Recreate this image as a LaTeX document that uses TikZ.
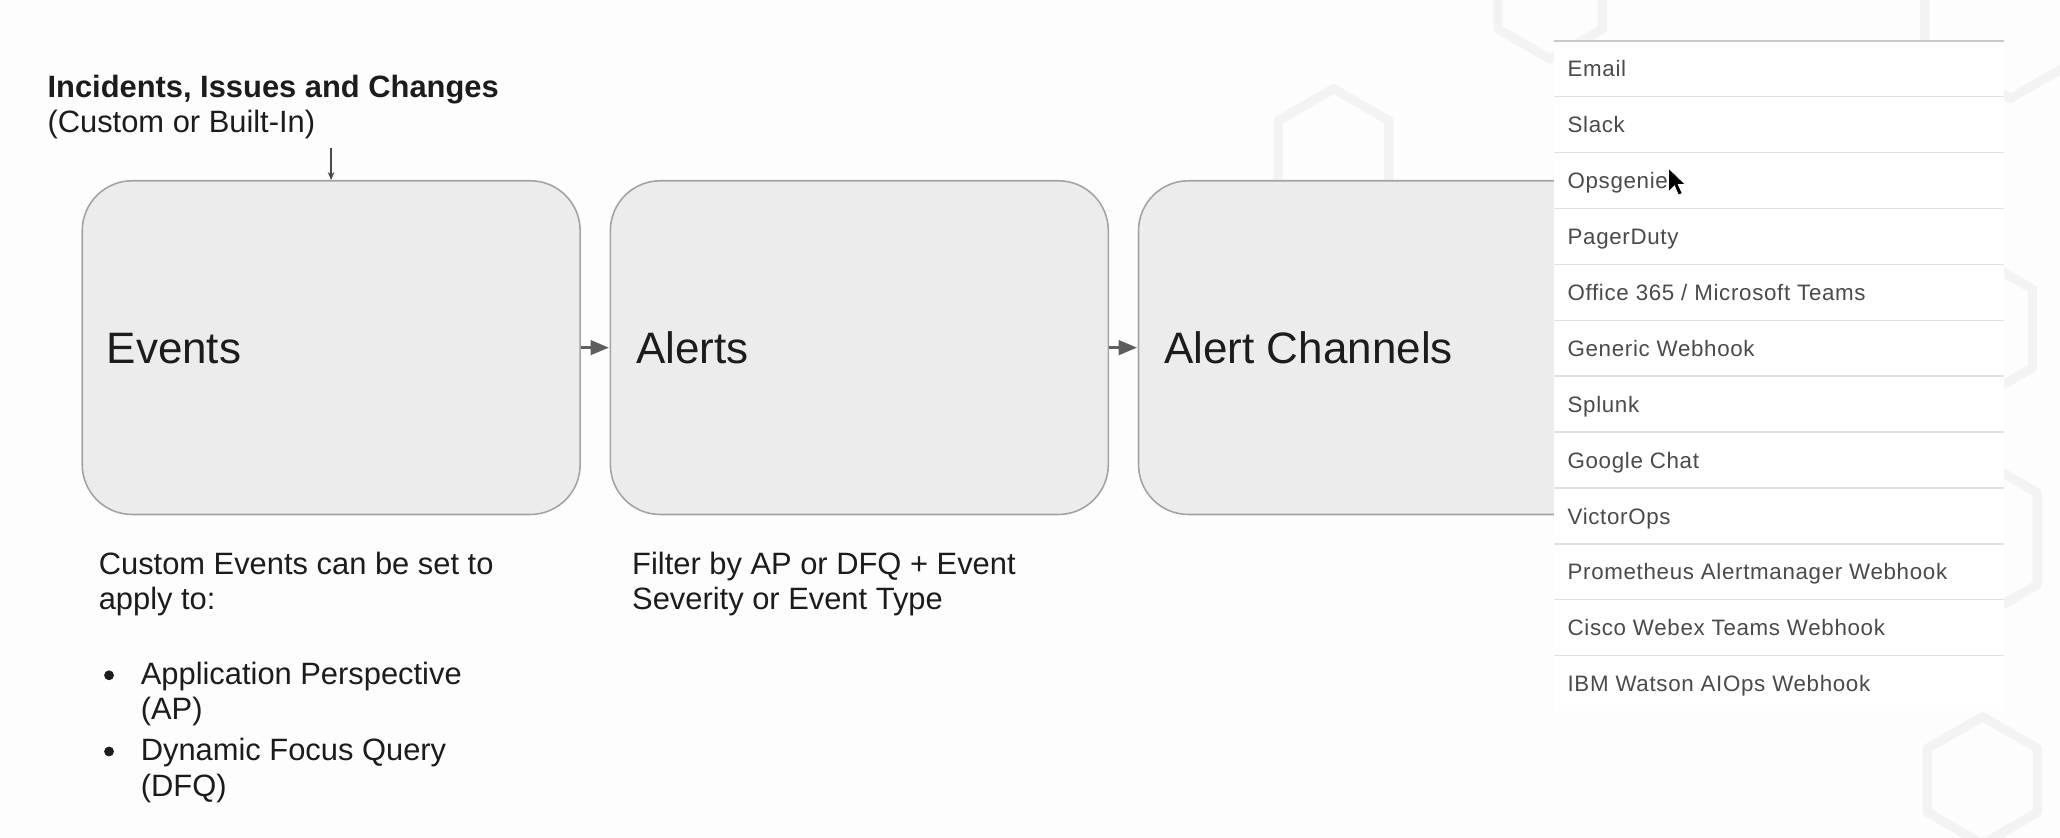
\documentclass[tikz,border=0pt]{standalone}
\usepackage{fontspec}
\setmainfont{Liberation Sans}
\usetikzlibrary{arrows.meta}
\definecolor{bgc}{HTML}{FDFDFD}
\definecolor{boxfill}{HTML}{ECECEC}
\definecolor{boxline}{HTML}{A3A3A3}
\definecolor{ink}{HTML}{1C1C1C}
\definecolor{listink}{HTML}{4A4A4A}
\definecolor{sepline}{HTML}{E2E2E2}
\definecolor{topline}{HTML}{C9C9C9}
\definecolor{wmark}{HTML}{F3F3F3}
\definecolor{arrowc}{HTML}{5E5E5E}
\tikzset{
  stagebox/.style={draw=boxline, fill=boxfill, line width=1.2pt, rounded corners=38pt,
    anchor=north west, minimum height=254pt, inner sep=0pt},
  bigtxt/.style={anchor=base west, text=ink, inner sep=0pt, font=\fontsize{33.5}{40}\selectfont},
  midtxt/.style={anchor=base west, text=ink, inner sep=0pt, align=left, font=\fontsize{23.5}{27}\selectfont},
  titletxt/.style={anchor=base west, text=ink, inner sep=0pt, font=\fontsize{23.5}{27}\selectfont\bfseries},
  itemtxt/.style={anchor=base west, text=listink, inner sep=0pt, font=\fontsize{17}{20}\selectfont\addfontfeature{LetterSpace=3}},
  flow/.style={draw=arrowc, line width=2.3pt, -{Triangle[length=14pt,width=11pt]}, shorten >=0.5pt},
  thinflow/.style={draw=ink!80, line width=0.9pt, -{Stealth[length=6pt,width=5pt]}},
  sep/.style={draw=sepline, line width=1pt},
  wm/.style={draw=wmark, line width=7pt, line join=round},
  bulletdot/.style={circle, fill=ink, minimum size=7.5pt, inner sep=0pt},
}
\begin{document}
\begin{tikzpicture}[x=1pt,y=-1pt]
\useasboundingbox[fill=bgc] (0,0) rectangle (1568,637.8);
% faint watermark hexagons
\foreach \cx/\cy/\r in {1015/116/48.5, 1180/-1/46, 1530/0/75, 1495/250/60, 1490/410/70, 1509/594/48.5}{
  \draw[wm] (\cx,\cy) +(90:\r) -- +(150:\r) -- +(210:\r) -- +(270:\r) -- +(330:\r) -- +(30:\r) -- cycle;
}
% stage boxes
\node[stagebox, minimum width=379pt] (events) at (62,137) {};
\node[stagebox, minimum width=379pt] (alerts) at (464,137) {};
\node[stagebox, minimum width=420pt] (channels) at (866,137) {};
\node[bigtxt] (eventstxt) at (81,277) {Events};
\node[bigtxt] (alertstxt) at (484,277) {Alerts};
\node[bigtxt] (channelstxt) at (886,277) {Alert Channels};
% connectors
\draw[flow] (events.east) -- (alerts.west);
\draw[flow] (alerts.east) -- (channels.west);
% title and input arrow
\node[titletxt] (title) at (36,74) {Incidents, Issues and Changes};
\node[midtxt] (subtitle) at (36,101) {(Custom or Built-In)};
\coordinate (src) at (252,113);
\draw[thinflow] (src) -- (src |- events.north);
% notes under the boxes (base anchor = last line)
\node[midtxt] (evnote) at (75,464) {Custom Events can be set to\\apply to:};
\node[bulletdot] (b1) at (83,514) {};
\node[midtxt] (item1) at (107,548) {Application Perspective\\(AP)};
\node[bulletdot] (b2) at (83,572) {};
\node[midtxt] (item2) at (107,606) {Dynamic Focus Query\\(DFQ)};
\node[midtxt] (alnote) at (481,464) {Filter by AP or DFQ + Event\\Severity or Event Type};
% channel list
\fill[white] (1183,31) rectangle (1525,541);
\draw[draw=topline, line width=1.3pt] (1183,31) -- (1525,31);
\foreach \i in {1,...,11}{
  \draw[sep] (1183,{31+42.55*\i}) -- (1525,{31+42.55*\i});
}
\foreach \t [count=\i from 0] in {Email,Slack,Opsgenie,PagerDuty,Office 365 / Microsoft Teams,Generic Webhook,Splunk,Google Chat,VictorOps,Prometheus Alertmanager Webhook,Cisco Webex Teams Webhook,IBM Watson AIOps Webhook}{
  \node[itemtxt] (ch\i) at (1193,{58.5+42.55*\i}) {\t};
}
% mouse pointer
\fill[black, draw=white, line width=0.6pt] (1270,128) -- (1270,146) -- (1274.5,141.5) -- (1277.5,148.5) -- (1280.5,147.2) -- (1277.5,140.5) -- (1283,140.5) -- cycle;
\end{tikzpicture}
\end{document}
